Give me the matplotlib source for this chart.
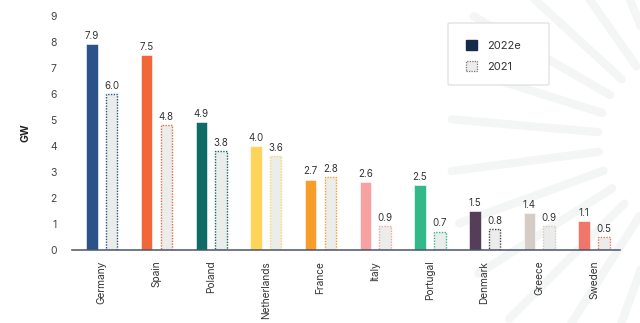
import numpy as np
import matplotlib
matplotlib.use("Agg")
import matplotlib.pyplot as plt
from matplotlib.patches import Patch, FancyBboxPatch
from matplotlib.lines import Line2D

plt.rcParams['font.family'] = ['Inter', 'DejaVu Sans']

countries = ["Germany", "Spain", "Poland", "Netherlands", "France",
             "Italy", "Portugal", "Denmark", "Greece", "Sweden"]
gw_2022e = [7.9, 7.5, 4.9, 4.0, 2.7, 2.6, 2.5, 1.5, 1.4, 1.1]
gw_2021 = [6.0, 4.8, 3.8, 3.6, 2.8, 0.9, 0.7, 0.8, 0.9, 0.5]
colors = ["#2B5388", "#F2673A", "#0F6B66", "#FFD45A", "#F89D2A",
          "#F7A1A3", "#32B98A", "#553F58", "#D5CCC8", "#F0766A"]
y_ticks = list(range(0, 10))

W, H = 640, 323
fig = plt.figure(figsize=(W / 100, H / 100), dpi=100)
fig.patch.set_facecolor("white")

# faint sunburst decoration in the background
cx, cy = 688, 140
for ang in np.arange(100, 265, 12.5):
    a = np.deg2rad(ang)
    r0, r1 = 90, 235 + 25 * abs(np.sin(a))
    xs = [cx + r0 * np.cos(a), cx + r1 * np.cos(a)]
    ys = [cy - r0 * np.sin(a), cy - r1 * np.sin(a)]
    fig.add_artist(Line2D([x / W for x in xs], [1 - y / H for y in ys],
                          transform=fig.transFigure, color="#F4F5F5",
                          lw=6, solid_capstyle="round", zorder=0))

ax = fig.add_axes([72 / W, 1 - 249.7 / H, (620 - 72) / W, (249.7 - 15.7) / H])
ax.set_facecolor("none")
ax.set_zorder(1)

x = np.arange(len(countries))
off, bw = 0.18, 0.21
for i in range(len(countries)):
    ax.bar(x[i] - off, gw_2022e[i], width=bw, color=colors[i],
           edgecolor="white", linewidth=0.4, zorder=3)
    ax.bar(x[i] + off, gw_2021[i], width=bw, color="#EBEDEA",
           edgecolor=colors[i], linewidth=1.0, linestyle=(0, (1, 1)), zorder=3)
    ax.text(x[i] - off, gw_2022e[i] + 0.12, f"{gw_2022e[i]:.1f}",
            ha="center", va="bottom", fontsize=7, color="#333333")
    ax.text(x[i] + off, gw_2021[i] + 0.12, f"{gw_2021[i]:.1f}",
            ha="center", va="bottom", fontsize=7, color="#333333")

ax.set_xlim(-0.543, 9.475)
ax.set_ylim(0, 9)
ax.set_yticks(y_ticks)
ax.set_yticklabels([str(t) for t in y_ticks], fontsize=7.5, color="#444444")
ax.tick_params(axis="y", length=0, pad=11)
ax.set_xticks(x)
ax.set_xticklabels(countries, rotation=90, fontsize=7.3, color="#333333",
                   va="top", ha="center")
ax.tick_params(axis="x", length=0, pad=8)
for s in ["top", "right", "left"]:
    ax.spines[s].set_visible(False)
ax.spines["bottom"].set_color("#4A5568")
ax.spines["bottom"].set_linewidth(1.1)
ax.spines["bottom"].set_zorder(4)
ax.set_ylabel("GW", fontsize=7.5, fontweight="bold", color="#222222", labelpad=14)

# legend frame
fig.add_artist(FancyBboxPatch((448 / W, 1 - 85 / H), 101 / W, 62 / H,
                              boxstyle="round,pad=0,rounding_size=0.003",
                              transform=fig.transFigure, facecolor="white",
                              edgecolor="#DCDCDC", linewidth=0.8, zorder=2))
handles = [Patch(facecolor="#142B4C", edgecolor="#142B4C", label="2022e"),
           Patch(facecolor="#EBEDEA", edgecolor="#777777", linestyle=(0, (1, 1)),
                 linewidth=0.9, label="2021")]
fig.legend(handles=handles, loc="upper left",
           bbox_to_anchor=(458 / W, 1 - 32 / H), frameon=False,
           fontsize=8, handlelength=1.0, handleheight=1.0,
           labelspacing=0.95, handletextpad=0.9, borderpad=0.2,
           labelcolor="#333333")

fig.savefig("out.png", dpi=100, facecolor="white")
